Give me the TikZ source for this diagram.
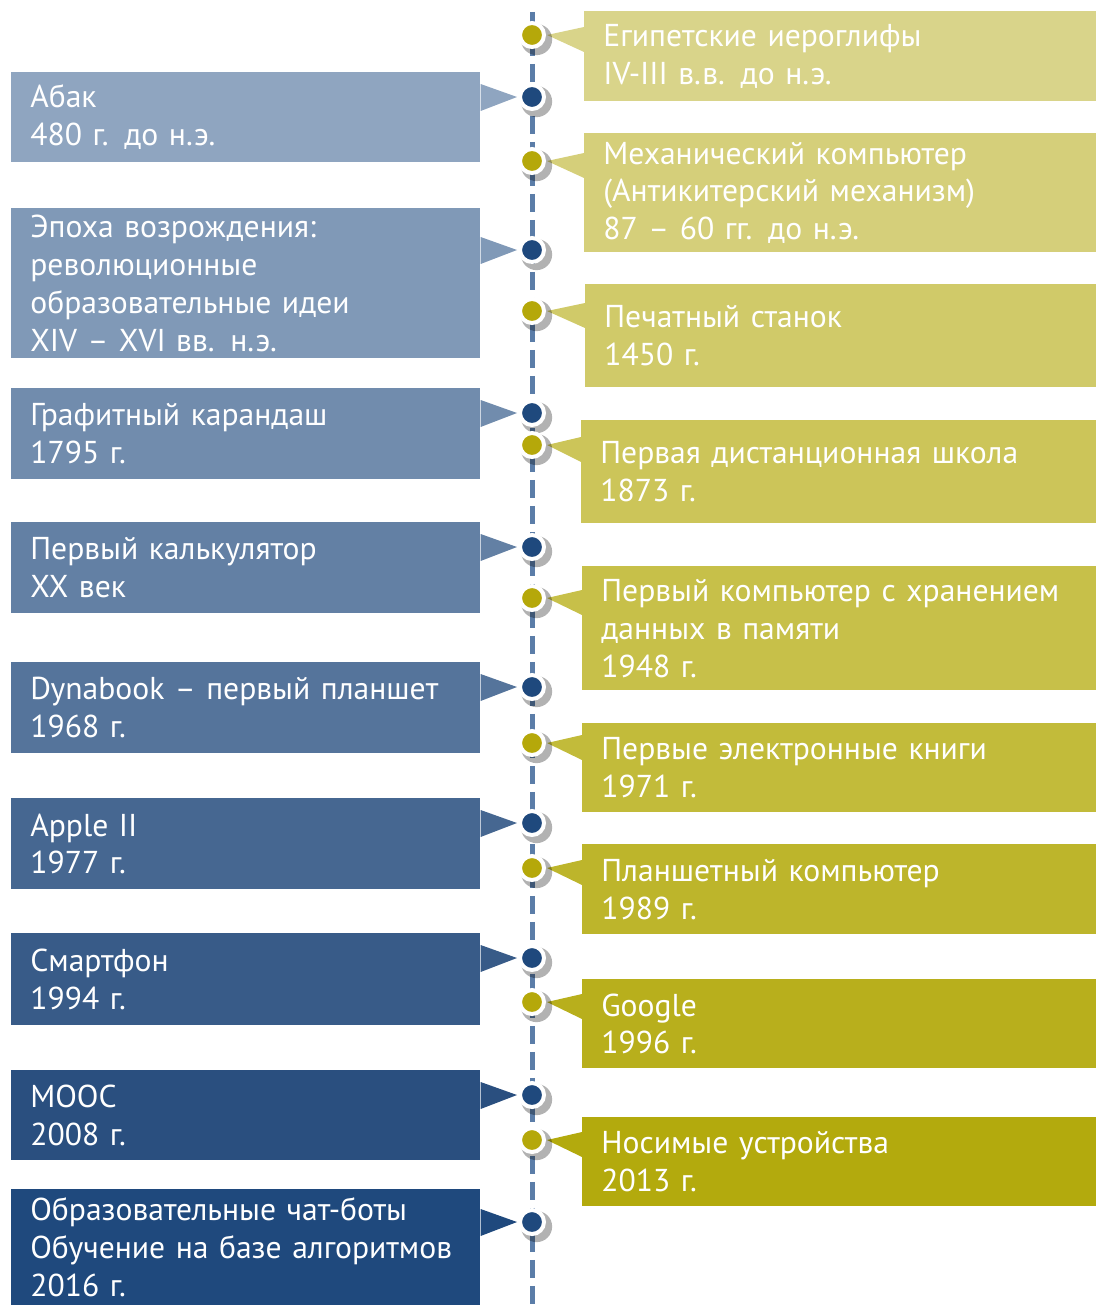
\documentclass[tikz,border=0pt]{standalone}
\usepackage{fontspec}
\setmainfont{PT Sans}
\usetikzlibrary{calc,shadows}

\definecolor{lc1}{HTML}{8FA5C0}
\definecolor{lc2}{HTML}{8099B7}
\definecolor{lc3}{HTML}{718CAD}
\definecolor{lc4}{HTML}{6380A4}
\definecolor{lc5}{HTML}{55749B}
\definecolor{lc6}{HTML}{466791}
\definecolor{lc7}{HTML}{385B88}
\definecolor{lc8}{HTML}{2A4F7F}
\definecolor{lc9}{HTML}{1F497D}
\definecolor{rc1}{HTML}{D9D48A}
\definecolor{rc2}{HTML}{D5CF7A}
\definecolor{rc3}{HTML}{D0CA69}
\definecolor{rc4}{HTML}{CCC559}
\definecolor{rc5}{HTML}{C7C049}
\definecolor{rc6}{HTML}{C2BB3A}
\definecolor{rc7}{HTML}{BDB52B}
\definecolor{rc8}{HTML}{B8AF1C}
\definecolor{rc9}{HTML}{B3AA0D}
\definecolor{dotblue}{HTML}{1F497D}
\definecolor{dotolive}{HTML}{B5A80A}
\definecolor{axisblue}{HTML}{5B7DA8}

\begin{document}
\begin{tikzpicture}[x=0.02cm,y=-0.02cm]

        \tikzstyle{lbox}=[shape=rectangle,anchor=north west,text=white,align=left,inner xsep=0.38cm,inner ysep=0pt,text width=8.62cm,font=\fontsize{18pt}{21.5pt}\selectfont]
        \tikzstyle{rbox}=[lbox,text width=9.7cm]
        \tikzstyle{ldot}=[shape=circle,fill=dotblue,draw=white,line width=0.08cm,minimum size=0.48cm,inner sep=0pt,drop shadow={shadow xshift=0.07cm,shadow yshift=-0.07cm,shadow scale=1.3,opacity=0.3,fill=black}]
        \tikzstyle{rdot}=[ldot,fill=dotolive]
        \tikzstyle{timeline}=[draw=axisblue,line width=0.1cm,dash pattern=on 0.36cm off 0.16cm]

        \useasboundingbox (0,0) rectangle (1095,1307);

        \coordinate (T) at (532,12);
        \coordinate (B) at (532,1307);
        \path[timeline] (T) -- (B);

        \node[lbox,fill=lc1,minimum height=1.8cm] (L1) at (11,72) {Абак\\480 г. до н.э.};
        \node[lbox,fill=lc2,minimum height=3.0cm] (L2) at (11,208) {Эпоха возрождения:\\революционные\\образовательные идеи\\XIV – XVI вв. н.э.};
        \node[lbox,fill=lc3,minimum height=1.82cm] (L3) at (11,388) {Графитный карандаш\\1795 г.};
        \node[lbox,fill=lc4,minimum height=1.82cm] (L4) at (11,522) {Первый калькулятор\\XX век};
        \node[lbox,fill=lc5,minimum height=1.82cm] (L5) at (11,662) {Dynabook – первый планшет\\1968 г.};
        \node[lbox,fill=lc6,minimum height=1.82cm] (L6) at (11,798) {Apple II\\1977 г.};
        \node[lbox,fill=lc7,minimum height=1.84cm] (L7) at (11,933) {Смартфон\\1994 г.};
        \node[lbox,fill=lc8,minimum height=1.8cm] (L8) at (11,1070) {MOOC\\2008 г.};
        \node[lbox,fill=lc9,minimum height=2.32cm] (L9) at (11,1189) {Образовательные чат-боты\\Обучение на базе алгоритмов\\2016 г.};

        \node[rbox,fill=rc1,minimum height=1.8cm] (R1) at (584,11) {Египетские иероглифы\\IV-III в.в. до н.э.};
        \node[rbox,fill=rc2,minimum height=2.38cm] (R2) at (584,133) {Механический компьютер\\(Антикитерский механизм)\\87 – 60 гг. до н.э.};
        \node[rbox,fill=rc3,minimum height=2.06cm] (R3) at (585,284) {Печатный станок\\1450 г.};
        \node[rbox,fill=rc4,minimum height=2.06cm] (R4) at (581,420) {Первая дистанционная школа\\1873 г.};
        \node[rbox,fill=rc5,minimum height=2.48cm] (R5) at (582,566) {Первый компьютер с хранением\\данных в памяти\\1948 г.};
        \node[rbox,fill=rc6,minimum height=1.78cm] (R6) at (582,723) {Первые электронные книги\\1971 г.};
        \node[rbox,fill=rc7,minimum height=1.8cm] (R7) at (582,844) {Планшетный компьютер\\1989 г.};
        \node[rbox,fill=rc8,minimum height=1.78cm] (R8) at (582,979) {Google\\1996 г.};
        \node[rbox,fill=rc9,minimum height=1.78cm] (R9) at (582,1117) {Носимые устройства\\2013 г.};

        \coordinate (DL1) at (532,97);
        \coordinate (DL2) at (532,250);
        \coordinate (DL3) at (532,413);
        \coordinate (DL4) at (532,547);
        \coordinate (DL5) at (532,687);
        \coordinate (DL6) at (532,823);
        \coordinate (DL7) at (532,958);
        \coordinate (DL8) at (532,1095);
        \coordinate (DL9) at (532,1222);

        \coordinate (DR1) at (532,35);
        \coordinate (DR2) at (532,161);
        \coordinate (DR3) at (532,311);
        \coordinate (DR4) at (532,445);
        \coordinate (DR5) at (532,598);
        \coordinate (DR6) at (532,743);
        \coordinate (DR7) at (532,868);
        \coordinate (DR8) at (532,1002);
        \coordinate (DR9) at (532,1140);

        \fill[lc1] ($(L1.east |- DL1)+(0,-13)$) -- ($(DL1)+(-15,0)$) -- ($(L1.east |- DL1)+(0,14)$) -- cycle;
        \fill[lc2] ($(L2.east |- DL2)+(0,-13)$) -- ($(DL2)+(-15,0)$) -- ($(L2.east |- DL2)+(0,14)$) -- cycle;
        \fill[lc3] ($(L3.east |- DL3)+(0,-13)$) -- ($(DL3)+(-15,0)$) -- ($(L3.east |- DL3)+(0,14)$) -- cycle;
        \fill[lc4] ($(L4.east |- DL4)+(0,-13)$) -- ($(DL4)+(-15,0)$) -- ($(L4.east |- DL4)+(0,14)$) -- cycle;
        \fill[lc5] ($(L5.east |- DL5)+(0,-13)$) -- ($(DL5)+(-15,0)$) -- ($(L5.east |- DL5)+(0,14)$) -- cycle;
        \fill[lc6] ($(L6.east |- DL6)+(0,-13)$) -- ($(DL6)+(-15,0)$) -- ($(L6.east |- DL6)+(0,14)$) -- cycle;
        \fill[lc7] ($(L7.east |- DL7)+(0,-13)$) -- ($(DL7)+(-15,0)$) -- ($(L7.east |- DL7)+(0,14)$) -- cycle;
        \fill[lc8] ($(L8.east |- DL8)+(0,-13)$) -- ($(DL8)+(-15,0)$) -- ($(L8.east |- DL8)+(0,14)$) -- cycle;
        \fill[lc9] ($(L9.east |- DL9)+(0,-13)$) -- ($(DL9)+(-15,0)$) -- ($(L9.east |- DL9)+(0,14)$) -- cycle;

        \fill[rc1] ($(R1.west |- DR1)+(0,-8)$) -- ($(DR1)+(15,0)$) -- ($(R1.west |- DR1)+(0,17)$) -- cycle;
        \fill[rc2] ($(R2.west |- DR2)+(0,-8)$) -- ($(DR2)+(15,0)$) -- ($(R2.west |- DR2)+(0,17)$) -- cycle;
        \fill[rc3] ($(R3.west |- DR3)+(0,-8)$) -- ($(DR3)+(15,0)$) -- ($(R3.west |- DR3)+(0,17)$) -- cycle;
        \fill[rc4] ($(R4.west |- DR4)+(0,-8)$) -- ($(DR4)+(15,0)$) -- ($(R4.west |- DR4)+(0,17)$) -- cycle;
        \fill[rc5] ($(R5.west |- DR5)+(0,-8)$) -- ($(DR5)+(15,0)$) -- ($(R5.west |- DR5)+(0,17)$) -- cycle;
        \fill[rc6] ($(R6.west |- DR6)+(0,-8)$) -- ($(DR6)+(15,0)$) -- ($(R6.west |- DR6)+(0,17)$) -- cycle;
        \fill[rc7] ($(R7.west |- DR7)+(0,-8)$) -- ($(DR7)+(15,0)$) -- ($(R7.west |- DR7)+(0,17)$) -- cycle;
        \fill[rc8] ($(R8.west |- DR8)+(0,-8)$) -- ($(DR8)+(15,0)$) -- ($(R8.west |- DR8)+(0,17)$) -- cycle;
        \fill[rc9] ($(R9.west |- DR9)+(0,-8)$) -- ($(DR9)+(15,0)$) -- ($(R9.west |- DR9)+(0,17)$) -- cycle;

        \node[ldot] (PL1) at (DL1) {};
        \node[ldot] (PL2) at (DL2) {};
        \node[ldot] (PL3) at (DL3) {};
        \node[ldot] (PL4) at (DL4) {};
        \node[ldot] (PL5) at (DL5) {};
        \node[ldot] (PL6) at (DL6) {};
        \node[ldot] (PL7) at (DL7) {};
        \node[ldot] (PL8) at (DL8) {};
        \node[ldot] (PL9) at (DL9) {};

        \node[rdot] (PR1) at (DR1) {};
        \node[rdot] (PR2) at (DR2) {};
        \node[rdot] (PR3) at (DR3) {};
        \node[rdot] (PR4) at (DR4) {};
        \node[rdot] (PR5) at (DR5) {};
        \node[rdot] (PR6) at (DR6) {};
        \node[rdot] (PR7) at (DR7) {};
        \node[rdot] (PR8) at (DR8) {};
        \node[rdot] (PR9) at (DR9) {};
      \end{tikzpicture}
\end{document}
